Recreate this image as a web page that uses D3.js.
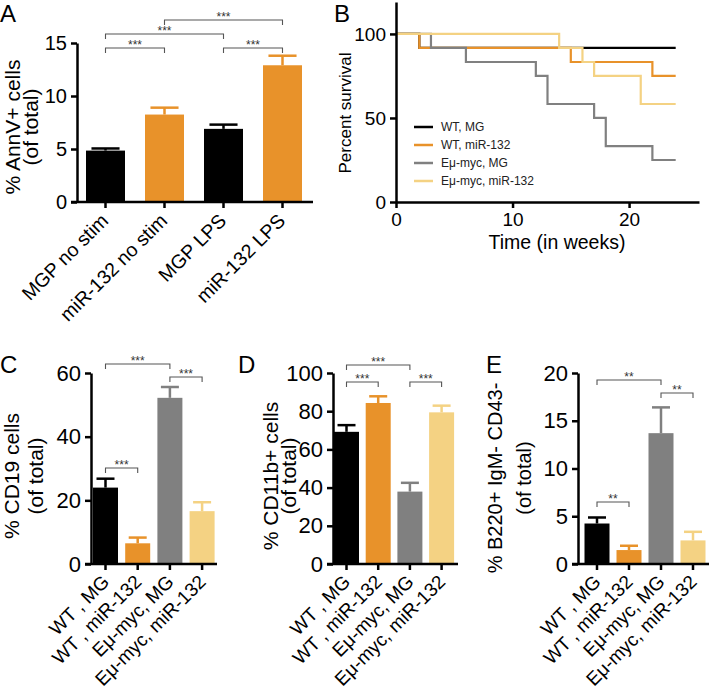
<!DOCTYPE html>
<html>
<head>
<meta charset="utf-8">
<script src="https://cdn.jsdelivr.net/npm/d3@7"></script>
<style>
  body { margin: 0; background: #fff; }
  svg { display: block; font-family: "Liberation Sans", Arial, sans-serif; }
</style>
</head>
<body>
<script>
// ---------------- DATA ----------------
const annCats   = ["MGP no stim", "miR-132 no stim", "MGP LPS", "miR-132 LPS"];
const annMeans  = [4.85, 8.25, 6.9, 12.9];
const annUpper  = [5.05, 8.9, 7.3, 13.8];
const annColors = ["#000000", "#E8922A", "#000000", "#E8922A"];
const annBrackets = [[0, 1, "***"], [0, 2, "***"], [1, 3, "***"], [2, 3, "***"]];

const groupCats   = ["WT , MG", "WT , miR-132", "E\u03BC-myc, MG", "E\u03BC-myc, miR-132"];
const groupColors = ["#000000", "#E8922A", "#808080", "#F4D283"];

const cd19Means = [24.0, 6.5, 52.2, 16.6];
const cd19Upper = [26.8, 8.3, 55.6, 19.4];
const cd19Brackets = [[0, 1, "***"], [0, 2, "***"], [2, 3, "***"]];

const cd11Means = [69.2, 84.3, 37.9, 79.4];
const cd11Upper = [72.7, 87.8, 42.5, 82.9];
const cd11Brackets = [[0, 1, "***"], [0, 2, "***"], [2, 3, "***"]];

const b220Means = [4.24, 1.46, 13.7, 2.47];
const b220Upper = [4.87, 1.91, 16.4, 3.37];
const b220Brackets = [[0, 1, "**"], [0, 2, "**"], [2, 3, "**"]];

// Kaplan-Meier survival steps [week, percent]
const survNames  = ["WT, MG", "WT, miR-132", "E\u03BC-myc, MG", "E\u03BC-myc, miR-132"];
const survWtMG   = [[0, 100], [2, 91.7], [24, 91.7]];
const survWtMiR  = [[0, 100], [2, 91.7], [15, 83.3], [22, 75], [24, 75]];
const survEmuMG  = [[0, 100], [3, 91.7], [6, 83.3], [12, 75], [13, 58.3], [17, 50], [18, 33.3], [22, 25], [24, 25]];
const survEmuMiR = [[0, 100], [14, 91.7], [16, 83.3], [17, 75], [21, 58.3], [24, 58.3]];
const survColors = ["#000000", "#E8922A", "#808080", "#F4D283"];
const survXTicks = [0, 10, 20];
const survYTicks = [0, 50, 100];

// ---------------- DRAWING ----------------
const svg = d3.select("body").append("svg").attr("width", 709).attr("height", 693);
const FONT = '"Liberation Sans", Arial, sans-serif';
const AX_W = 2.5;

function panelLetter(txt, x, y) {
  svg.append("text").attr("x", x).attr("y", y).attr("font-size", 24).text(txt);
}

function styleAxis(g, fs) {
  g.selectAll("path.domain").attr("stroke", "#000").attr("stroke-width", AX_W);
  g.selectAll(".tick line").attr("stroke", "#000").attr("stroke-width", AX_W);
  g.selectAll(".tick text").attr("font-size", fs).attr("font-family", FONT).attr("fill", "#000");
}

function barPanel(c) {
  const g = svg.append("g");
  const n = c.cats.length;
  const start = c.firstCenter - c.step / 2;
  const pIn = 1 - c.bw / c.step;
  const x = d3.scaleBand().domain(c.cats).range([start, start + n * c.step])
    .paddingInner(pIn).paddingOuter(pIn / 2);
  const y = d3.scaleLinear().domain([0, c.yMax]).range([c.yBottom, c.yTop]);

  // bars
  g.selectAll("rect.bar").data(c.cats).join("rect")
    .attr("x", d => x(d)).attr("width", x.bandwidth())
    .attr("y", (d, i) => y(c.means[i]))
    .attr("height", (d, i) => y(0) - y(c.means[i]))
    .attr("fill", (d, i) => c.colors[i]);

  // error bars (upper only)
  const capW = x.bandwidth() * 0.72;
  c.cats.forEach((d, i) => {
    const cx = x(d) + x.bandwidth() / 2;
    g.append("line").attr("x1", cx).attr("x2", cx)
      .attr("y1", y(c.means[i])).attr("y2", y(c.upper[i]))
      .attr("stroke", c.colors[i]).attr("stroke-width", 2.5);
    g.append("line").attr("x1", cx - capW / 2).attr("x2", cx + capW / 2)
      .attr("y1", y(c.upper[i])).attr("y2", y(c.upper[i]))
      .attr("stroke", c.colors[i]).attr("stroke-width", 2.5);
  });

  // y axis
  const ya = g.append("g").attr("transform", `translate(${c.x0},0)`)
    .call(d3.axisLeft(y).tickValues(c.yTicks).tickSize(6).tickPadding(4).tickSizeOuter(0));
  styleAxis(ya, c.tickFont);

  // x axis line + ticks
  g.append("line").attr("x1", c.x0 - 6).attr("x2", c.xEnd)
    .attr("y1", c.yBottom).attr("y2", c.yBottom)
    .attr("stroke", "#000").attr("stroke-width", AX_W);
  c.cats.forEach(d => {
    const cx = x(d) + x.bandwidth() / 2;
    g.append("line").attr("x1", cx).attr("x2", cx)
      .attr("y1", c.yBottom).attr("y2", c.yBottom + 6)
      .attr("stroke", "#000").attr("stroke-width", AX_W);
    g.append("text").attr("text-anchor", "end")
      .attr("font-size", c.catFont)
      .attr("transform", `translate(${cx + c.catDx},${c.yBottom + c.catDy}) rotate(-45)`)
      .text(d);
  });

  // y label (two lines); labelBase = baseline x of each rotated line
  c.labelLines.forEach((t, k) => {
    g.append("text").attr("text-anchor", "middle")
      .attr("font-size", c.labelFont)
      .attr("transform", `translate(${c.labelBase[k]},${c.labelY}) rotate(-90)`)
      .text(t);
  });

  // significance brackets
  c.brackets.forEach((b, k) => {
    const xa = x(c.cats[b[0]]) + x.bandwidth() / 2;
    const xb = x(c.cats[b[1]]) + x.bandwidth() / 2;
    const by = c.bracketY[k];
    g.append("path")
      .attr("d", `M${xa},${by + 5}V${by}H${xb}V${by + 5}`)
      .attr("fill", "none").attr("stroke", "#555").attr("stroke-width", 1.1);
    g.append("text").attr("x", (xa + xb) / 2).attr("y", by + 1)
      .attr("text-anchor", "middle").attr("font-size", 12).attr("fill", "#333")
      .text(b[2]);
  });
}

// ---- Panel A ----
panelLetter("A", 0, 22);
barPanel({
  cats: annCats, means: annMeans, upper: annUpper, colors: annColors,
  x0: 77, xEnd: 313, firstCenter: 105.5, step: 59, bw: 39,
  yBottom: 202, yTop: 43, yMax: 15, yTicks: [0, 5, 10, 15], tickFont: 20,
  catFont: 19.5, catDx: 4, catDy: 20,
  labelLines: ["% AnnV+ cells", "(of total)"], labelBase: [19.5, 38], labelY: 127, labelFont: 21,
  brackets: annBrackets, bracketY: [48, 34, 20, 48]
});

// ---- Panel B ----
panelLetter("B", 334, 22);
(function () {
  const g = svg.append("g");
  const x = d3.scaleLinear().domain([0, 26]).range([396, 699]);
  const y = d3.scaleLinear().domain([0, 119]).range([202, 2]);
  const line = d3.line().x(d => x(d[0])).y(d => y(d[1])).curve(d3.curveStepAfter);
  const curves = [survWtMG, survWtMiR, survEmuMG, survEmuMiR];
  curves.forEach((c, i) => {
    g.append("path").attr("d", line(c)).attr("fill", "none")
      .attr("stroke", survColors[i]).attr("stroke-width", 2.2);
  });
  const xa = g.append("g").attr("transform", "translate(0,202)")
    .call(d3.axisBottom(x).tickValues(survXTicks).tickSize(6).tickPadding(5).tickSizeOuter(0));
  styleAxis(xa, 19);
  const ya = g.append("g").attr("transform", "translate(396,0)")
    .call(d3.axisLeft(y).tickValues(survYTicks).tickSize(6).tickPadding(4).tickSizeOuter(0));
  styleAxis(ya, 19);
  g.append("text").attr("x", 557).attr("y", 249).attr("text-anchor", "middle")
    .attr("font-size", 19.5).text("Time (in weeks)");
  g.append("text").attr("text-anchor", "middle").attr("font-size", 17)
    .attr("transform", `translate(351,113) rotate(-90)`).text("Percent survival");
  // legend
  survNames.forEach((nm, i) => {
    const ly = 127 + i * 18;
    g.append("line").attr("x1", 414).attr("x2", 433).attr("y1", ly).attr("y2", ly)
      .attr("stroke", survColors[i]).attr("stroke-width", 2.5);
    g.append("text").attr("x", 441).attr("y", ly + 4.3).attr("font-size", 12)
      .attr("fill", "#222").text(nm);
  });
})();

// ---- Panel C ----
panelLetter("C", 0, 373);
barPanel({
  cats: groupCats, means: cd19Means, upper: cd19Upper, colors: groupColors,
  x0: 91, xEnd: 217, firstCenter: 105.5, step: 32.2, bw: 25,
  yBottom: 564, yTop: 373, yMax: 60, yTicks: [0, 20, 40, 60], tickFont: 22,
  catFont: 19, catDx: 5, catDy: 19,
  labelLines: ["% CD19 cells", "(of total)"], labelBase: [18.5, 43], labelY: 476, labelFont: 21,
  brackets: cd19Brackets, bracketY: [468, 364, 377]
});

// ---- Panel D ----
panelLetter("D", 238, 373);
barPanel({
  cats: groupCats, means: cd11Means, upper: cd11Upper, colors: groupColors,
  x0: 333, xEnd: 458, firstCenter: 346.5, step: 31.7, bw: 25,
  yBottom: 564, yTop: 373, yMax: 100, yTicks: [0, 20, 40, 60, 80, 100], tickFont: 22,
  catFont: 19, catDx: 5, catDy: 19,
  labelLines: ["% CD11b+ cells", "(of total)"], labelBase: [278, 296], labelY: 476, labelFont: 21,
  brackets: cd11Brackets, bracketY: [382, 365, 382]
});

// ---- Panel E ----
panelLetter("E", 486, 373);
barPanel({
  cats: groupCats, means: b220Means, upper: b220Upper, colors: groupColors,
  x0: 578, xEnd: 712, firstCenter: 597, step: 32, bw: 25,
  yBottom: 564, yTop: 373, yMax: 20, yTicks: [0, 5, 10, 15, 20], tickFont: 22,
  catFont: 19, catDx: 5, catDy: 19,
  labelLines: ["% B220+ IgM- CD43-", "(of total)"], labelBase: [502, 530.5], labelY: 478, labelFont: 20,
  brackets: b220Brackets, bracketY: [502, 380, 393]
});
</script>
</body>
</html>
